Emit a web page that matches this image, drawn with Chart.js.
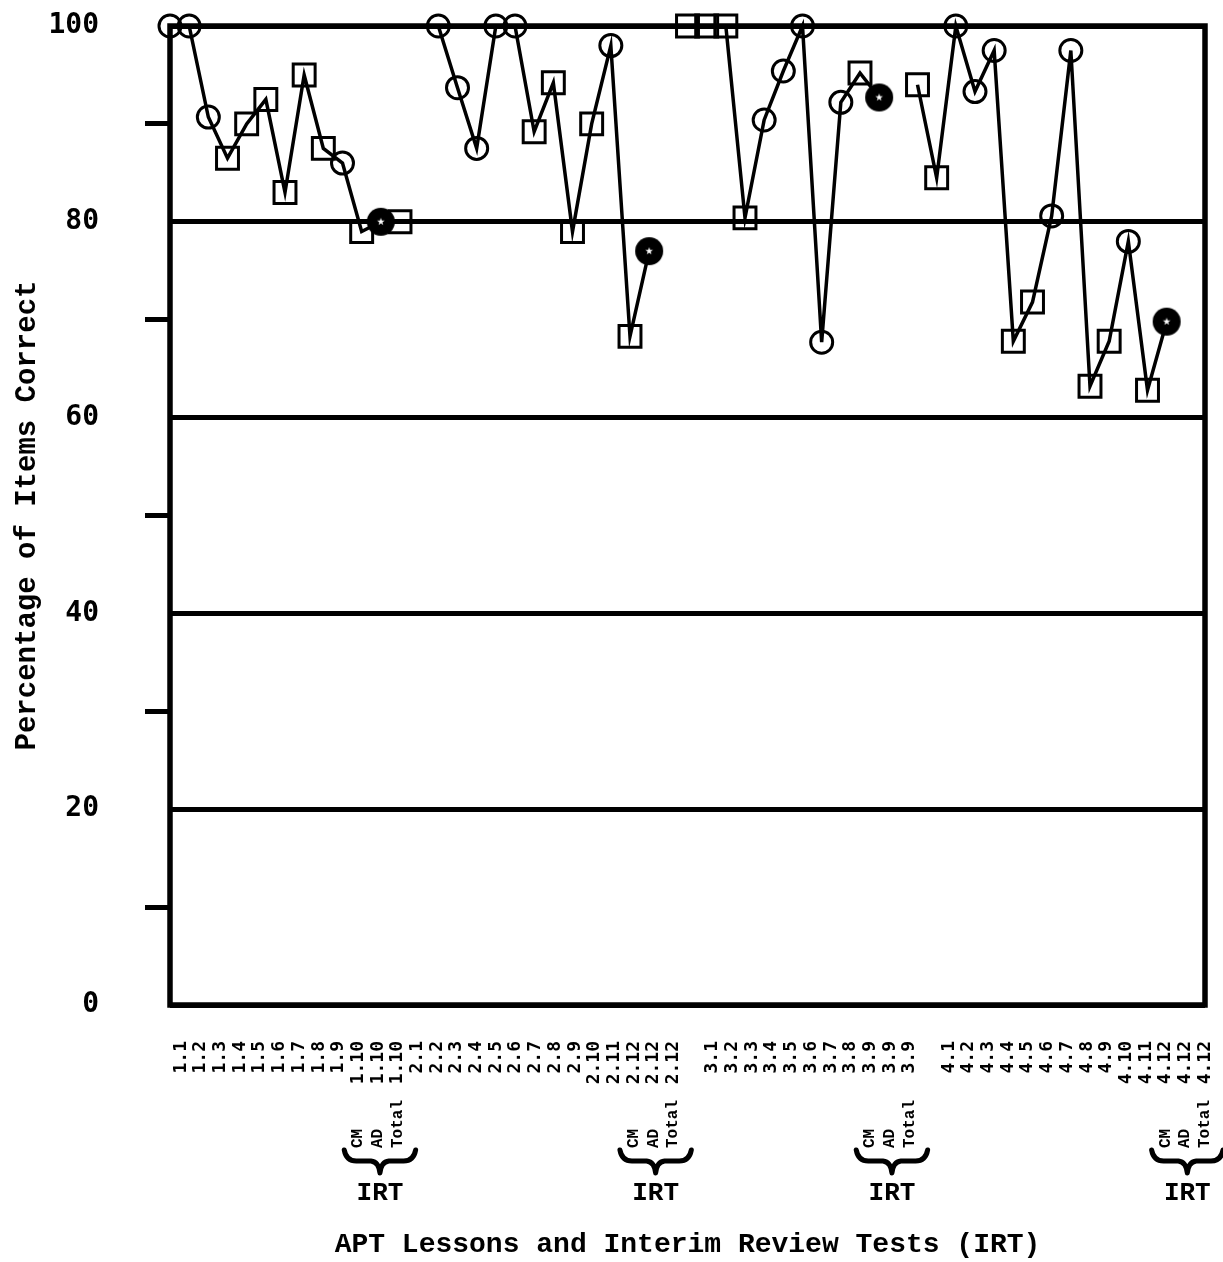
<!DOCTYPE html>
<html>
<head>
<meta charset="utf-8">
<script src="https://cdn.jsdelivr.net/npm/chart.js@4.4.1/dist/chart.umd.min.js"></script>
<style>
  html, body { margin: 0; padding: 0; background: #fff; }
  #chart { display: block; }
</style>
</head>
<body>
<canvas id="chart" width="1223" height="1262"></canvas>
<script>
// x tick labels, "" = empty slot between units
const lessonLabels = [
  "1.1", "1.2", "1.3", "1.4", "1.5", "1.6", "1.7", "1.8", "1.9", "1.10", "1.10", "1.10",
  "2.1", "2.2", "2.3", "2.4", "2.5", "2.6", "2.7", "2.8", "2.9", "2.10", "2.11", "2.12", "2.12", "2.12",
  "",
  "3.1", "3.2", "3.3", "3.4", "3.5", "3.6", "3.7", "3.8", "3.9", "3.9", "3.9",
  "",
  "4.1", "4.2", "4.3", "4.4", "4.5", "4.6", "4.7", "4.8", "4.9", "4.10", "4.11", "4.12", "4.12", "4.12"
];

const unitStarts = [0, 12, 27, 39];

// percentage correct per lesson, last three of each unit = IRT CM, AD, Total
const unit1Values = [100, 100, 90.7, 86.5, 90, 92.5, 83, 95, 87.5, 86, 79, 80];
const unit2Values = [80, null, 100, 93.7, 87.5, 100, 100, 89.2, 94.2, 79, 90, 98, 68.3, 77];
const unit3Values = [100, 100, 100, 80.4, 90.4, 95.4, 100, 67.7, 92.2, 95.2, 92.7];
const unit4Values = [94, 84.5, 100, 93.3, 97.5, 67.8, 71.8, 80.6, 97.5, 63.2, 67.8, 78, 62.8, 69.8];

// c = CM lesson (circle), s = AD lesson (square), t = IRT total (filled)
const unit1Marks = ["c", "c", "c", "s", "s", "s", "s", "s", "s", "c", "s", "t"];
const unit2Marks = ["s", "s", "c", "c", "c", "c", "c", "s", "s", "s", "s", "c", "s", "t"];
const unit3Marks = ["s", "s", "s", "s", "c", "c", "c", "c", "c", "s", "t"];
const unit4Marks = ["s", "s", "c", "c", "c", "s", "s", "c", "c", "s", "s", "c", "s", "t"];

const irtParts = ["CM", "AD", "Total"];
const irtStarts = [9, 23, 35, 50];

const yTicks = [0, 10, 20, 30, 40, 50, 60, 70, 80, 90, 100];

function makeTotalMark() {
  const c = document.createElement("canvas");
  c.width = 30;
  c.height = 30;
  const g = c.getContext("2d");
  g.fillStyle = "#000";
  g.beginPath();
  g.arc(15, 15, 14, 0, Math.PI * 2);
  g.fill();
  g.fillStyle = "#fff";
  g.beginPath();
  for (let k = 0; k < 10; k++) {
    const r = k % 2 ? 1.6 : 4;
    const a = -Math.PI / 2 + k * Math.PI / 5;
    g.lineTo(15 + r * Math.cos(a), 15 + r * Math.sin(a));
  }
  g.closePath();
  g.fill();
  return c;
}

const totalMark = makeTotalMark();

function unitDataset(start, values, marks) {
  return {
    xAxisID: "xd",
    data: values.map((v, k) => ({ x: start + k, y: v })),
    borderColor: "#000",
    borderWidth: 3.5,
    pointStyle: marks.map(m => m === "t" ? totalMark : (m === "c" ? "circle" : "rect")),
    pointRadius: marks.map(m => m === "c" ? 11 : (m === "s" ? 15.5 : 14)),
    pointBorderWidth: 3,
    pointBorderColor: "#000",
    pointBackgroundColor: "rgba(0,0,0,0)",
    tension: 0,
    spanGaps: false,
    clip: false
  };
}

function drawBrace(ctx, x0, x1, xc, yTop, yMid, yTip) {
  ctx.lineWidth = 5;
  ctx.lineCap = "round";
  ctx.lineJoin = "round";
  ctx.beginPath();
  ctx.moveTo(x0, yTop);
  ctx.quadraticCurveTo(x0 + 2, yMid, x0 + 12, yMid);
  ctx.lineTo(xc - 9, yMid);
  ctx.quadraticCurveTo(xc - 1, yMid + 1, xc, yTip);
  ctx.quadraticCurveTo(xc + 1, yMid + 1, xc + 9, yMid);
  ctx.lineTo(x1 - 12, yMid);
  ctx.quadraticCurveTo(x1 - 2, yMid, x1, yTop);
  ctx.stroke();
}

const frame = {
  id: "frame",
  beforeDatasetsDraw(chart) {
    const a = chart.chartArea;
    const ctx = chart.ctx;
    ctx.save();
    ctx.strokeStyle = "#000";
    ctx.lineWidth = 5.5;
    ctx.strokeRect(a.left, a.top, a.right - a.left, a.bottom - a.top);
    ctx.restore();
  }
};

const irtNotes = {
  id: "irtNotes",
  afterDraw(chart) {
    const ctx = chart.ctx;
    const sx = chart.scales.x;
    ctx.save();
    ctx.fillStyle = "#000";
    ctx.strokeStyle = "#000";
    irtStarts.forEach(start => {
      irtParts.forEach((part, k) => {
        ctx.save();
        ctx.translate(sx.getPixelForValue(start + k), 1148);
        ctx.rotate(-Math.PI / 2);
        ctx.font = 'bold 16px "Liberation Mono"';
        ctx.textAlign = "left";
        ctx.textBaseline = "middle";
        ctx.fillText(part, 0, 0);
        ctx.restore();
      });
      const x0 = sx.getPixelForValue(start) - 14;
      const x1 = sx.getPixelForValue(start + 2) + 18;
      const xc = (x0 + x1) / 2;
      drawBrace(ctx, x0, x1, xc, 1150, 1161, 1173);
      ctx.font = 'bold 26px "Liberation Mono"';
      ctx.textAlign = "center";
      ctx.textBaseline = "middle";
      ctx.fillText("IRT", xc, 1193);
    });
    ctx.restore();
  }
};

const isMajor = ctx => ctx.tick && ctx.tick.value % 20 === 0;

const noPad = s => {
  s.paddingTop = 0;
  s.paddingBottom = 0;
  s.paddingLeft = 0;
  s.paddingRight = 0;
};

new Chart(document.getElementById("chart"), {
  type: "line",
  data: {
    datasets: [
      unitDataset(unitStarts[0], unit1Values, unit1Marks),
      unitDataset(unitStarts[1], unit2Values, unit2Marks),
      unitDataset(unitStarts[2], unit3Values, unit3Marks),
      unitDataset(unitStarts[3], unit4Values, unit4Marks)
    ]
  },
  options: {
    responsive: false,
    animation: false,
    devicePixelRatio: 1,
    layout: { autoPadding: false, padding: { left: 10, right: 18, top: 26, bottom: 0 } },
    plugins: { legend: { display: false }, tooltip: { enabled: false } },
    scales: {
      x: {
        type: "linear",
        position: "bottom",
        min: -0.56,
        max: 52,
        afterBuildTicks: s => { s.ticks = lessonLabels.map((l, i) => ({ value: i })); },
        afterFit: s => { s.height = 257; noPad(s); },
        grid: { display: false },
        border: { display: false },
        ticks: {
          autoSkip: false,
          minRotation: 90,
          maxRotation: 90,
          padding: 28,
          color: "#000",
          font: { family: "DejaVu Sans Mono", size: 18, weight: "bold" },
          callback: (v, i) => lessonLabels[i]
        },
        title: {
          display: true,
          text: "APT Lessons and Interim Review Tests (IRT)",
          color: "#000",
          padding: { top: 0, bottom: 0 },
          font: { family: "Liberation Mono", size: 28, weight: "bold" }
        }
      },
      xd: { type: "linear", display: false, min: 0, max: 54 },
      y: {
        type: "linear",
        min: 0,
        max: 100,
        afterBuildTicks: s => { s.ticks = yTicks.map(v => ({ value: v })); },
        afterFit: s => { s.width = 160; noPad(s); },
        border: { display: false },
        grid: {
          color: ctx => isMajor(ctx) ? "#000" : "rgba(0,0,0,0)",
          lineWidth: 5,
          tickColor: ctx => isMajor(ctx) ? "rgba(0,0,0,0)" : "#000",
          tickWidth: 5,
          tickLength: 25
        },
        ticks: {
          padding: 46,
          color: "#000",
          font: { family: "DejaVu Sans Mono", size: 28, weight: "bold" },
          callback: v => v % 20 === 0 ? v : ""
        },
        title: {
          display: true,
          text: "Percentage of Items Correct",
          color: "#000",
          padding: { top: 0, bottom: 0 },
          font: { family: "Liberation Mono", size: 29, weight: "bold" }
        }
      }
    }
  },
  plugins: [frame, irtNotes]
});
</script>
</body>
</html>
